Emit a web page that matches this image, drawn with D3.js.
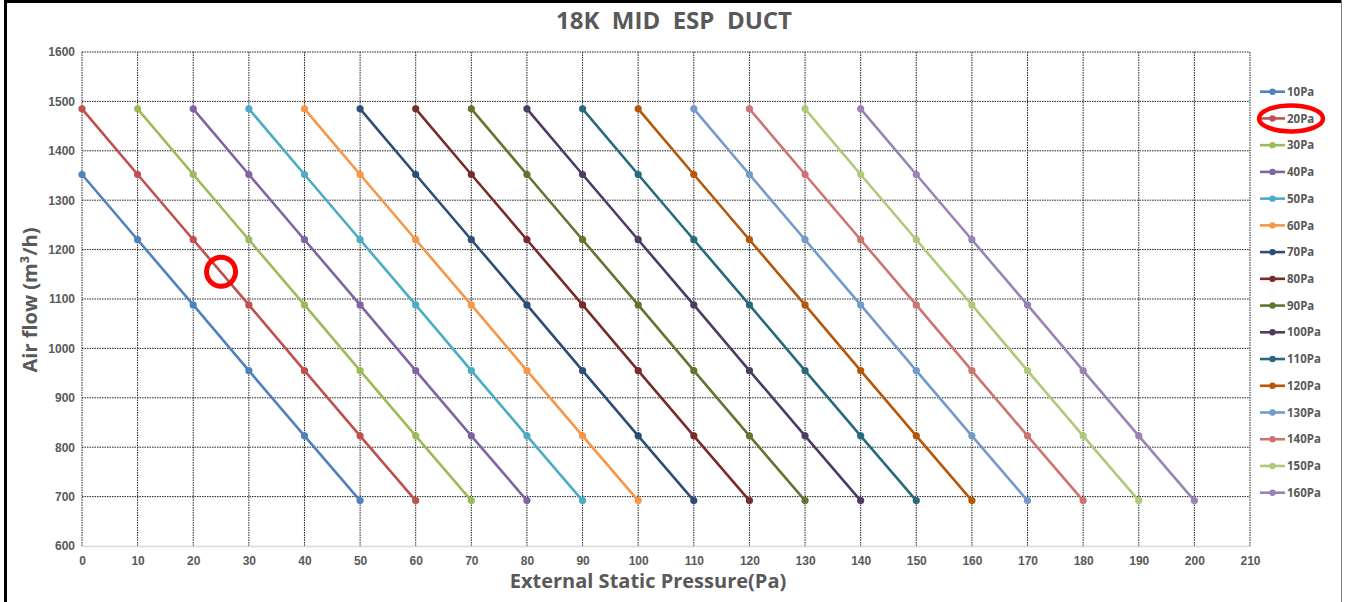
<!DOCTYPE html>
<html>
<head>
<meta charset="utf-8">
<script src="https://cdn.jsdelivr.net/npm/d3@7"></script>
<style>
  body { margin: 0; background: #fff; }
  svg { display: block; font-family: "Open Sans", "Noto Sans", sans-serif; }
  .tick-label { font-size: 12px; font-weight: bold; fill: #595959; }
  .legend-label { font-size: 11.5px; font-weight: bold; fill: #595959; }
</style>
</head>
<body>
<div id="chart"></div>
<script>
// chart data
const chartTitle = "18K  MID  ESP  DUCT";
const xTitle = "External Static Pressure(Pa)";
const yTitle = "Air flow (m³/h)";

const seriesNames = ["10Pa","20Pa","30Pa","40Pa","50Pa","60Pa","70Pa","80Pa",
                     "90Pa","100Pa","110Pa","120Pa","130Pa","140Pa","150Pa","160Pa"];
const seriesColors = ["#4F81BD","#C0504D","#9BBB59","#8064A2","#4BACC6","#F79646","#2C4D75","#772C2A",
                      "#5F7530","#4D3B62","#276A7C","#B65708","#729ACA","#CD7371","#AFC97A","#9983B5"];

// x values (external static pressure) of each series
const espValues = [
  [0,10,20,30,40,50],
  [0,10,20,30,40,50,60],
  [10,20,30,40,50,60,70],
  [20,30,40,50,60,70,80],
  [30,40,50,60,70,80,90],
  [40,50,60,70,80,90,100],
  [50,60,70,80,90,100,110],
  [60,70,80,90,100,110,120],
  [70,80,90,100,110,120,130],
  [80,90,100,110,120,130,140],
  [90,100,110,120,130,140,150],
  [100,110,120,130,140,150,160],
  [110,120,130,140,150,160,170],
  [120,130,140,150,160,170,180],
  [130,140,150,160,170,180,190],
  [140,150,160,170,180,190,200]
];
// y values (air flow) of each series
const airflowValues = [
  [1352,1220,1088,955,823,692],
  [1485,1352,1220,1088,955,823,692],
  [1485,1352,1220,1088,955,823,692],
  [1485,1352,1220,1088,955,823,692],
  [1485,1352,1220,1088,955,823,692],
  [1485,1352,1220,1088,955,823,692],
  [1485,1352,1220,1088,955,823,692],
  [1485,1352,1220,1088,955,823,692],
  [1485,1352,1220,1088,955,823,692],
  [1485,1352,1220,1088,955,823,692],
  [1485,1352,1220,1088,955,823,692],
  [1485,1352,1220,1088,955,823,692],
  [1485,1352,1220,1088,955,823,692],
  [1485,1352,1220,1088,955,823,692],
  [1485,1352,1220,1088,955,823,692],
  [1485,1352,1220,1088,955,823,692]
];

const xTicks = [0,10,20,30,40,50,60,70,80,90,100,110,120,130,140,150,160,170,180,190,200,210];
const yTicks = [600,700,800,900,1000,1100,1200,1300,1400,1500,1600];

// highlighted items (red marks drawn on the picture)
const markedSeries = "20Pa";
const markedPoint = {esp: 25, flow: 1155};

const W = 1345, H = 602;
const plot = {left: 82, right: 1250, top: 52, bottom: 546};

const svg = d3.select("#chart").append("svg")
  .attr("width", W).attr("height", H);

// frame round the picture
svg.append("rect").attr("x", 4).attr("y", 0).attr("width", 1338).attr("height", 3).attr("fill", "#000");
svg.append("rect").attr("x", 4).attr("y", 0).attr("width", 3).attr("height", H).attr("fill", "#000");
svg.append("rect").attr("x", 1341).attr("y", 0).attr("width", 1).attr("height", H).attr("fill", "#808080");

let x = d3.scaleLinear().domain([0, 210]).range([plot.left, plot.right]);
let y = d3.scaleLinear().domain([600, 1600]).range([plot.bottom, plot.top]);

//grid lines (dotted)
svg.append("g").selectAll("line.vgrid")
  .data(xTicks).enter().append("line")
  .attr("x1", d => x(d)).attr("x2", d => x(d))
  .attr("y1", plot.top).attr("y2", plot.bottom)
  .attr("stroke", "#222").attr("stroke-width", 1).attr("stroke-dasharray", "1.5,1");

svg.append("g").selectAll("line.hgrid")
  .data(yTicks.filter(d => d > 600)).enter().append("line")
  .attr("x1", plot.left).attr("x2", plot.right)
  .attr("y1", d => y(d)).attr("y2", d => y(d))
  .attr("stroke", "#222").attr("stroke-width", 1).attr("stroke-dasharray", "1.5,1");

// x axis
let xAxis = svg.append("g")
  .attr("transform", "translate(0," + plot.bottom + ")")
  .call(d3.axisBottom(x).tickValues(xTicks).tickFormat(d3.format("d")).tickSize(0).tickPadding(10));
xAxis.select(".domain").attr("stroke", "#d9d9d9").attr("stroke-width", 1.5);
xAxis.selectAll("text").attr("class", "tick-label").attr("font-family", null).attr("font-size", null).attr("fill", null);

// y axis
let yAxis = svg.append("g")
  .attr("transform", "translate(" + plot.left + ",0)")
  .call(d3.axisLeft(y).tickValues(yTicks).tickFormat(d3.format("d")).tickSize(0).tickPadding(7));
yAxis.select(".domain").remove();
yAxis.selectAll("text").attr("class", "tick-label").attr("font-family", null).attr("font-size", null).attr("fill", null);

// series
let series = seriesNames.map(function(name, i){
  return {name: name, color: seriesColors[i],
          vals: espValues[i].map(function(e, j){ return {esp: e, flow: airflowValues[i][j]}; })};
});

let line = d3.line()
  .x(d => x(d.esp))
  .y(d => y(d.flow));

let lines = svg.append("g").selectAll(".s-line")
  .data(series).enter().append("g")
  .attr("class", "s-line");

lines.append("path")
  .attr("d", d => line(d.vals))
  .attr("fill", "none")
  .attr("stroke", d => d.color)
  .attr("stroke-width", 2.6);

lines.selectAll("circle")
  .data(d => d.vals.map(v => ({esp: v.esp, flow: v.flow, color: d.color})))
  .enter().append("circle")
  .attr("cx", d => x(d.esp)).attr("cy", d => y(d.flow))
  .attr("r", 3.6)
  .attr("fill", d => d.color);

// legend
let legendY = d3.scalePoint().domain(seriesNames).range([91.7, 492.7]);
let legend = svg.append("g").selectAll(".legend")
  .data(series).enter().append("g")
  .attr("class", "legend")
  .attr("transform", d => "translate(1260," + legendY(d.name) + ")");
legend.append("line")
  .attr("x1", 0).attr("x2", 25)
  .attr("stroke", d => d.color).attr("stroke-width", 2.6);
legend.append("circle")
  .attr("cx", 12.5).attr("r", 3.2).attr("fill", d => d.color);
legend.append("text")
  .attr("class", "legend-label")
  .attr("x", 27).attr("dy", "0.36em")
  .text(d => d.name);

// titles
svg.append("text")
  .attr("x", 674).attr("y", 29)
  .attr("text-anchor", "middle")
  .style("white-space", "pre")
  .attr("font-size", 24).attr("font-weight", "bold").attr("fill", "#595959")
  .text(chartTitle);

svg.append("text")
  .attr("x", 648).attr("y", 588)
  .attr("text-anchor", "middle")
  .attr("font-size", 20).attr("font-weight", "bold").attr("fill", "#595959")
  .text(xTitle);

svg.append("text")
  .attr("transform", "translate(37,300) rotate(-90)")
  .attr("text-anchor", "middle")
  .attr("font-size", 20).attr("font-weight", "bold").attr("fill", "#595959")
  .text(yTitle);

// red marks
svg.append("circle")
  .attr("cx", x(markedPoint.esp)).attr("cy", y(markedPoint.flow))
  .attr("r", 14.5)
  .attr("fill", "none").attr("stroke", "#ff0000").attr("stroke-width", 5);

svg.append("ellipse")
  .attr("cx", 1291).attr("cy", legendY(markedSeries))
  .attr("rx", 32).attr("ry", 13)
  .attr("fill", "none").attr("stroke", "#ff0000").attr("stroke-width", 4.5);
</script>
</body>
</html>
